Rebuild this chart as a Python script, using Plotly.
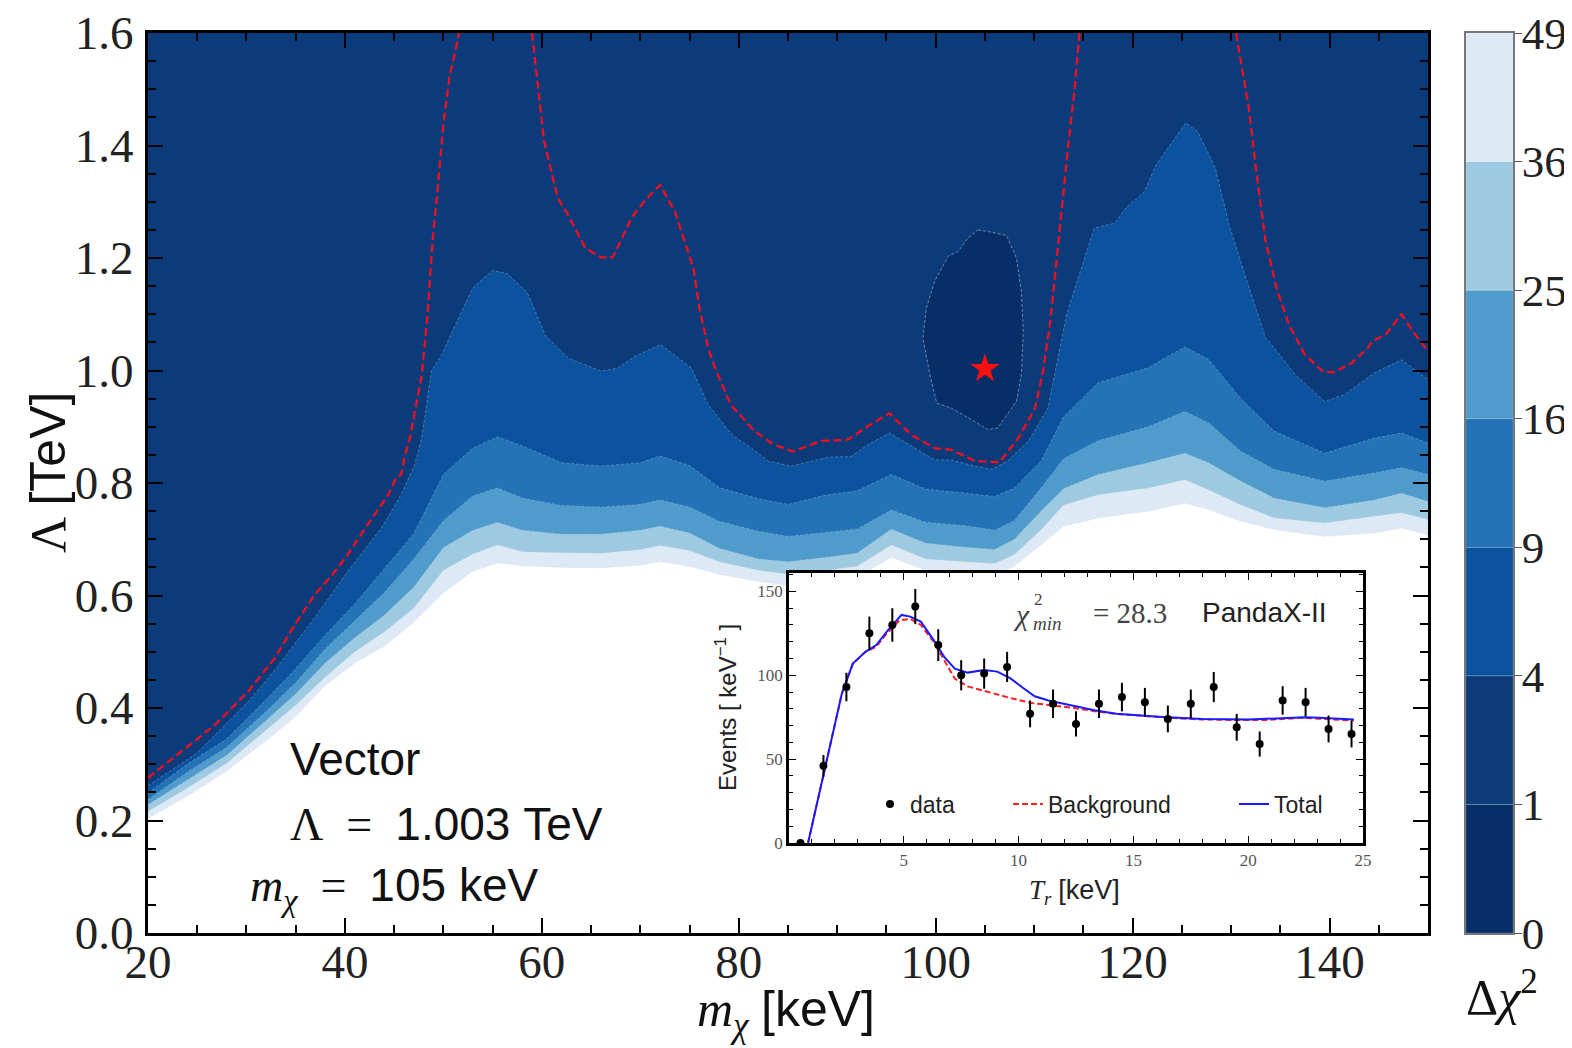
import plotly.graph_objects as go

W, H = 1572, 1048

# ---------------- main panel: Δχ² contour bands ----------------
LEVELS = [0, 1, 4, 9, 16, 25, 36, 49]
BAND_COLORS = ['#082e68', '#0b3b7a', '#0b539e', '#2373b6', '#4f9bcb', '#9ecae1', '#ddeaf6']

X_MIN, X_MAX = 20, 150
Y_MIN, Y_MAX = 0.0, 1.6

# common mχ grid for the lower contours (keV)
M_GRID = [20, 24, 28, 32, 35, 38, 41, 44, 47, 50, 53, 55.5, 58, 62, 66, 70, 72, 75, 78, 82,
          85, 89, 92, 95.5, 99, 103, 106, 108, 110.7, 113, 116.5, 121.6, 125.3, 127.7, 131,
          134.4, 139.5, 144.6, 147.3, 150]

L_C9 = [0.249, 0.300, 0.345, 0.415, 0.470, 0.530, 0.585, 0.648, 0.710, 0.815, 0.862, 0.882,
        0.866, 0.836, 0.830, 0.836, 0.848, 0.831, 0.792, 0.772, 0.762, 0.779, 0.786, 0.815,
        0.789, 0.782, 0.776, 0.791, 0.839, 0.918, 0.978, 1.005, 1.042, 1.020, 0.950, 0.892,
        0.853, 0.880, 0.889, 0.871]
L_C16 = [0.237, 0.286, 0.330, 0.394, 0.445, 0.505, 0.555, 0.605, 0.665, 0.733, 0.777, 0.791,
         0.773, 0.760, 0.757, 0.762, 0.770, 0.757, 0.732, 0.714, 0.705, 0.712, 0.718, 0.752,
         0.730, 0.724, 0.716, 0.733, 0.791, 0.843, 0.875, 0.900, 0.927, 0.907, 0.856, 0.824,
         0.803, 0.818, 0.827, 0.815]
L_C25 = [0.228, 0.272, 0.316, 0.378, 0.425, 0.480, 0.525, 0.565, 0.615, 0.685, 0.716, 0.730,
         0.716, 0.709, 0.709, 0.716, 0.723, 0.711, 0.684, 0.665, 0.660, 0.668, 0.675, 0.718,
         0.693, 0.686, 0.682, 0.700, 0.750, 0.790, 0.815, 0.836, 0.853, 0.836, 0.803, 0.773,
         0.756, 0.770, 0.782, 0.767]
L_C36 = [0.216, 0.258, 0.302, 0.360, 0.405, 0.455, 0.500, 0.535, 0.578, 0.645, 0.674, 0.690,
         0.678, 0.676, 0.675, 0.682, 0.689, 0.680, 0.660, 0.645, 0.638, 0.645, 0.652, 0.690,
         0.665, 0.660, 0.657, 0.673, 0.717, 0.761, 0.779, 0.791, 0.806, 0.788, 0.761, 0.738,
         0.729, 0.741, 0.747, 0.735]
L_C49 = [0.204, 0.243, 0.288, 0.342, 0.385, 0.440, 0.480, 0.510, 0.553, 0.605, 0.643, 0.658,
         0.653, 0.650, 0.649, 0.654, 0.660, 0.652, 0.638, 0.625, 0.618, 0.625, 0.632, 0.668,
         0.645, 0.640, 0.636, 0.652, 0.690, 0.723, 0.738, 0.750, 0.764, 0.753, 0.732, 0.717,
         0.705, 0.711, 0.720, 0.708]

# Δχ² = 4 contour
M_C4 = [20, 25, 30.2, 33, 36.9, 40.3, 43.7, 45.7, 47.1, 47.8, 48.8, 49.9, 51.1, 53, 55, 56.5,
        58.5, 60.4, 62.7, 66, 67.7, 69.4, 72.1, 75.2, 76.9, 79.3, 81.3, 83, 85.3, 89.1, 91.4,
        93.1, 95.3, 97.9, 99.9, 101.6, 103.3, 105.7, 107.3, 109.4, 111.4, 113.3, 116.1, 118.2,
        119.3, 121.2, 122.4, 125.4, 126.6, 128.4, 129.8, 131.4, 133.5, 134.4, 136.5, 139.5,
        141.5, 144.6, 147.3, 150]
L_C4 = [0.262, 0.320, 0.412, 0.470, 0.560, 0.643, 0.720, 0.779, 0.833, 0.880, 1.000, 1.030,
        1.077, 1.147, 1.178, 1.172, 1.139, 1.061, 1.022, 0.999, 1.004, 1.025, 1.046, 1.004,
        0.939, 0.886, 0.862, 0.839, 0.830, 0.846, 0.847, 0.868, 0.889, 0.862, 0.841, 0.841,
        0.833, 0.824, 0.839, 0.874, 0.933, 1.100, 1.253, 1.262, 1.289, 1.318, 1.366, 1.440,
        1.425, 1.360, 1.259, 1.170, 1.058, 1.040, 0.993, 0.945, 0.957, 0.996, 1.019, 0.984]

# Δχ² = 1 closed contour around the best fit
M_C1 = [104.3, 105.65, 107.2, 108.2, 108.7, 108.9, 108.7, 108.2, 106.3, 105.3, 103.3, 101.6,
        100.1, 99.4, 98.7, 99.05, 99.9, 101.25, 102.3, 103.3, 104.3]
L_C1 = [1.250, 1.246, 1.240, 1.200, 1.141, 1.070, 0.993, 0.945, 0.898, 0.895, 0.916, 0.933,
        0.942, 0.993, 1.058, 1.111, 1.159, 1.203, 1.212, 1.236, 1.250]

# red dashed curve (three pieces)
M_RED1 = [20, 23.4, 26.8, 30.2, 32.9, 34.9, 36.9, 39, 40.3, 42.3, 44.4, 45.2, 45.7, 46.1, 46.6,
          47.8, 48.4, 48.9, 49.3, 50.0, 50.6, 51.6]
L_RED1 = [0.276, 0.323, 0.370, 0.430, 0.489, 0.548, 0.601, 0.643, 0.673, 0.726, 0.779, 0.809,
          0.815, 0.850, 0.880, 0.992, 1.100, 1.230, 1.300, 1.437, 1.520, 1.600]
M_RED2 = [59.0, 59.6, 60.2, 61.6, 62.66, 64.4, 66.0, 67.2, 69.1, 70.4, 72, 73.5, 75.4, 76.0,
          76.9, 77.6, 79.2, 81.6, 83.6, 85.5, 88.4, 91.1, 93.1, 95.3, 97.5, 99.9, 101.6, 104,
          106.5, 108.4, 110.1, 110.9, 111.6, 112.3, 112.8, 113.5, 114.1, 114.6]
L_RED2 = [1.600, 1.500, 1.410, 1.307, 1.277, 1.218, 1.201, 1.201, 1.271, 1.301, 1.330, 1.283,
          1.182, 1.111, 1.040, 1.004, 0.939, 0.892, 0.868, 0.856, 0.875, 0.877, 0.901, 0.924,
          0.886, 0.862, 0.859, 0.839, 0.837, 0.880, 0.933, 0.999, 1.081, 1.200, 1.289, 1.407,
          1.500, 1.600]
M_RED3 = [130.5, 131.8, 132.6, 133.5, 134.7, 135.9, 137.5, 139.4, 140.5, 142.2, 143.9, 144.3,
          145.7, 147.3, 148.7, 150]
L_RED3 = [1.600, 1.467, 1.348, 1.230, 1.141, 1.081, 1.028, 0.997, 0.997, 1.013, 1.040, 1.052,
          1.064, 1.100, 1.064, 1.034]

BEST_M = [105]
BEST_L = [1.003]

# ---------------- inset: PandaX-II spectrum ----------------
T_BINS = [0.5, 1.5, 2.5, 3.5, 4.5, 5.5, 6.5, 7.5, 8.5, 9.5, 10.5, 11.5, 12.5, 13.5, 14.5, 15.5,
          16.5, 17.5, 18.5, 19.5, 20.5, 21.5, 22.5, 23.5, 24.5]
EVENTS = [0, 46, 93, 125, 130, 141, 118, 100, 101, 105, 77, 83, 71, 83, 87, 84, 74, 83, 93, 69,
          59, 85, 84, 68, 65]
EVENTS_ERR = [0, 6.5, 8.5, 10, 10, 10.5, 9.5, 9, 9, 9, 8, 8.5, 7.5, 8.5, 8.5, 8.5, 8, 8.5, 9,
              8, 7.5, 8.5, 8.5, 8, 8]

T_BKG = [0.83, 1.52, 2.04, 2.3, 2.78, 3.33, 3.8, 4.26, 4.81, 5.28, 5.74, 6.3, 6.76, 7.22, 7.78,
         8.7, 9.63, 10.55, 11.5, 12.4, 13.3, 14.26, 15.2, 16.1, 17.0, 17.96, 18.9, 19.8, 20.7,
         21.7, 22.4, 23.1, 23.9, 24.6]
BKG = [0, 42, 72, 89, 107, 114, 117, 125, 132.7, 133.7, 130, 120, 109, 98, 93.4, 89.8, 86.5,
       83.5, 82, 80.6, 78.6, 77, 76, 75, 74.3, 73.7, 73.3, 73.3, 73.3, 74.1, 74.7, 74.1, 73.3,
       73.0]
T_TOT = [0.83, 1.52, 2.04, 2.3, 2.78, 3.33, 3.8, 4.26, 4.9, 5.28, 5.74, 6.3, 6.76, 7.22, 7.78,
         8.5, 9.07, 9.63, 10.2, 10.7, 11.3, 12.4, 13.3, 14.26, 15.2, 16.1, 18.0, 20.0, 21.7,
         22.5, 23.1, 24.6]
TOT = [0, 42, 72, 89, 107, 114, 118, 126, 136, 135, 132, 121, 111, 104, 101.6, 103.2, 102.2,
       98.3, 92.4, 87.5, 85, 81.6, 79.2, 77.1, 76, 75.3, 74, 73.7, 74.5, 75, 74.7, 73.7]

IN_X_MIN, IN_X_MAX = 0, 25
IN_Y_MIN, IN_Y_MAX = 0, 161

SERIF = 'Liberation Serif'
SANS = 'Liberation Sans'
EN = '\u2002'

fig = go.Figure()


def up_polygon(ms, ls):
    return list(ms) + [ms[-1], ms[0]], list(ls) + [Y_MAX, Y_MAX]


# filled bands: each fill covers from its contour up to the top; later ones overlay
for ls, color in [(L_C49, BAND_COLORS[6]), (L_C36, BAND_COLORS[5]), (L_C25, BAND_COLORS[4]),
                  (L_C16, BAND_COLORS[3]), (L_C9, BAND_COLORS[2])]:
    px, py = up_polygon(M_GRID, ls)
    fig.add_trace(go.Scatter(x=px, y=py, fill='toself', fillcolor=color, mode='lines',
                             line=dict(width=0), hoverinfo='skip', showlegend=False))
px, py = up_polygon(M_C4, L_C4)
fig.add_trace(go.Scatter(x=px, y=py, fill='toself', fillcolor=BAND_COLORS[1], mode='lines',
                         line=dict(width=0), hoverinfo='skip', showlegend=False))
fig.add_trace(go.Scatter(x=M_C1, y=L_C1, fill='toself', fillcolor=BAND_COLORS[0], mode='lines',
                         line=dict(width=1, color='rgba(190,200,220,0.55)', dash='3px,2px'),
                         hoverinfo='skip', showlegend=False))

# faint contour lines
for ms, ls in [(M_GRID, L_C49), (M_GRID, L_C36), (M_GRID, L_C25), (M_GRID, L_C16),
               (M_GRID, L_C9), (M_C4, L_C4)]:
    fig.add_trace(go.Scatter(x=ms, y=ls, mode='lines',
                             line=dict(width=1, color='rgba(200,210,230,0.35)', dash='3px,2px'),
                             hoverinfo='skip', showlegend=False))

for ms, ls in [(M_RED1, L_RED1), (M_RED2, L_RED2), (M_RED3, L_RED3)]:
    fig.add_trace(go.Scatter(x=ms, y=ls, mode='lines',
                             line=dict(width=2.3, color='#f01020', dash='8px,4px'),
                             hoverinfo='skip', showlegend=False))

fig.add_trace(go.Scatter(x=BEST_M, y=BEST_L, mode='markers',
                         marker=dict(symbol='star', size=22, color='#ff1010'),
                         hoverinfo='skip', showlegend=False))

# ---------------- inset traces ----------------
fig.add_trace(go.Scatter(x=[IN_X_MIN, IN_X_MAX, IN_X_MAX, IN_X_MIN],
                         y=[IN_Y_MIN, IN_Y_MIN, IN_Y_MAX, IN_Y_MAX],
                         fill='toself', fillcolor='white', mode='lines', line=dict(width=0),
                         xaxis='x2', yaxis='y2', hoverinfo='skip', showlegend=False))
fig.add_trace(go.Scatter(x=T_BKG, y=BKG, mode='lines', name='Background',
                         line=dict(color='#ff2020', width=2, dash='6px,3px'),
                         xaxis='x2', yaxis='y2', legend='legend2'))
fig.add_trace(go.Scatter(x=T_TOT, y=TOT, mode='lines', name='Total',
                         line=dict(color='#1a1aff', width=2),
                         xaxis='x2', yaxis='y2', legend='legend3'))
fig.add_trace(go.Scatter(x=T_BINS, y=EVENTS, mode='markers', name='data',
                         marker=dict(color='black', size=8),
                         error_y=dict(type='data', array=EVENTS_ERR, visible=True,
                                      thickness=2, width=0, color='black'),
                         xaxis='x2', yaxis='y2', legend='legend'))

# ---------------- colour bar (equal-height level bands) ----------------
fig.add_trace(go.Bar(x=[0.5] * (len(LEVELS) - 1), y=[1] * (len(LEVELS) - 1),
                     base=list(range(len(LEVELS) - 1)), width=1,
                     marker=dict(color=BAND_COLORS, line=dict(width=0.6, color='rgba(255,255,255,0.25)')),
                     xaxis='x3', yaxis='y3', hoverinfo='skip', showlegend=False))


def ppx(x):
    return x / W


def ppy(y):
    return 1 - y / H


axis_common = dict(showgrid=False, zeroline=False, showline=True, linecolor='black',
                   mirror='allticks', ticks='inside', tickcolor='black', automargin=False,
                   ticklabeloverflow='allow')

fig.update_layout(
    width=W, height=H, margin=dict(l=0, r=0, t=0, b=0, autoexpand=False),
    paper_bgcolor='white', plot_bgcolor='white',
    barmode='overlay',
    xaxis=dict(domain=[ppx(140), ppx(1420)], range=[X_MIN, X_MAX], anchor='y',
               tick0=20, dtick=20, ticklen=15, tickwidth=2, linewidth=3,
               ticklabelstandoff=-14,
               minor=dict(tick0=20, dtick=5, ticks='inside', ticklen=8, tickwidth=1.5,
                          tickcolor='black'),
               tickfont=dict(family=SERIF, size=47, color='#222'), **axis_common),
    yaxis=dict(domain=[ppy(925), ppy(25)], range=[Y_MIN, Y_MAX], anchor='x',
               tick0=0, dtick=0.2, tickformat='.1f', ticklen=15, tickwidth=2, linewidth=3,
               ticklabelstandoff=2,
               minor=dict(tick0=0, dtick=0.05, ticks='inside', ticklen=8, tickwidth=1.5,
                          tickcolor='black'),
               tickfont=dict(family=SERIF, size=47, color='#222'), **axis_common),
    xaxis2=dict(domain=[ppx(781), ppx(1355)], range=[IN_X_MIN, IN_X_MAX], anchor='y2',
                tickvals=[5, 10, 15, 20, 25], ticklen=7, tickwidth=1, linewidth=2.5,
                minor=dict(dtick=1, ticks='inside', ticklen=4, tickwidth=1, tickcolor='black'),
                tickfont=dict(family=SERIF, size=17, color='#555'), **axis_common),
    yaxis2=dict(domain=[ppy(835), ppy(565)], range=[IN_Y_MIN, IN_Y_MAX], anchor='x2',
                tickvals=[0, 50, 100, 150], ticklen=7, tickwidth=1, linewidth=2.5,
                minor=dict(dtick=10, ticks='inside', ticklen=4, tickwidth=1, tickcolor='black'),
                tickfont=dict(family=SERIF, size=17, color='#555'), **axis_common),
    xaxis3=dict(domain=[ppx(1458), ppx(1505)], range=[0, 1], anchor='y3', showgrid=False,
                zeroline=False, showline=True, mirror=True, linecolor='#777', linewidth=1.5,
                showticklabels=False, ticks='', automargin=False),
    yaxis3=dict(domain=[ppy(925), ppy(25)], range=[0, len(LEVELS) - 1], anchor='x3',
                side='right', showgrid=False, zeroline=False, showline=True, mirror=True,
                linecolor='#777', linewidth=1.5, ticks='outside', ticklen=7, tickcolor='#555',
                ticklabelstandoff=-9, ticklabeloverflow='allow',
                tickvals=list(range(len(LEVELS))), ticktext=[str(v) for v in LEVELS],
                tickfont=dict(family=SERIF, size=45, color='#222'), automargin=False),
    legend=dict(x=ppx(862), y=ppy(796), xanchor='left', yanchor='middle', orientation='h',
                bgcolor='rgba(0,0,0,0)', font=dict(family=SANS, size=23, color='#222')),
    legend2=dict(x=ppx(1000), y=ppy(796), xanchor='left', yanchor='middle', orientation='h',
                 bgcolor='rgba(0,0,0,0)', font=dict(family=SANS, size=23, color='#222')),
    legend3=dict(x=ppx(1226), y=ppy(796), xanchor='left', yanchor='middle', orientation='h',
                 bgcolor='rgba(0,0,0,0)', font=dict(family=SANS, size=23, color='#222')),
)


def ann(text, x, y, size, family, xanchor='left', angle=0, color='#111'):
    fig.add_annotation(text=text, x=ppx(x), y=ppy(y), xref='paper', yref='paper',
                       xanchor=xanchor, yanchor='middle', showarrow=False, textangle=angle,
                       font=dict(family=family, size=size, color=color))


# axis titles
ann('<i>m</i><sub><i>χ</i></sub> <span style="font-family:Liberation Sans">[keV]</span>',
    778, 1005, 50, SERIF, xanchor='center')
ann('Λ <span style="font-family:Liberation Sans">[TeV]</span>', 40, 465, 50, SERIF,
    xanchor='center', angle=-90)
ann('Δ<i>χ</i><sup>2</sup>', 1494, 985, 50, SERIF, xanchor='center')

# benchmark text
ann('Vector', 280, 751, 46, SANS)
ann('Λ' + EN + '=' + EN + '<span style="font-family:Liberation Sans">1.003 TeV</span>',
    280, 816, 46, SERIF)
ann('<i>m</i><sub><i>χ</i></sub>' + EN + '=' + EN +
    '<span style="font-family:Liberation Sans">105 keV</span>', 240, 880, 46, SERIF)

# inset texts
ann('<i>χ</i>', 1003, 606, 30, SERIF, color='#444')
ann('2', 1024, 591, 17, SERIF, color='#444')
ann('<i>min</i>', 1023, 615, 19, SERIF, color='#444')
ann('= 28.3', 1083, 605, 29, SERIF, color='#444')
ann('PandaX-II', 1192, 604, 28, SANS, color='#222')
ann('Events [ keV<sup>−1</sup> ]', 718, 700, 24, SANS, xanchor='center', angle=-90, color='#222')
ann('<i>T<sub>r</sub></i> <span style="font-family:Liberation Sans">[keV]</span>', 1066, 884,
    27, SERIF, xanchor='center', color='#222')

fig.write_html('out.html')
